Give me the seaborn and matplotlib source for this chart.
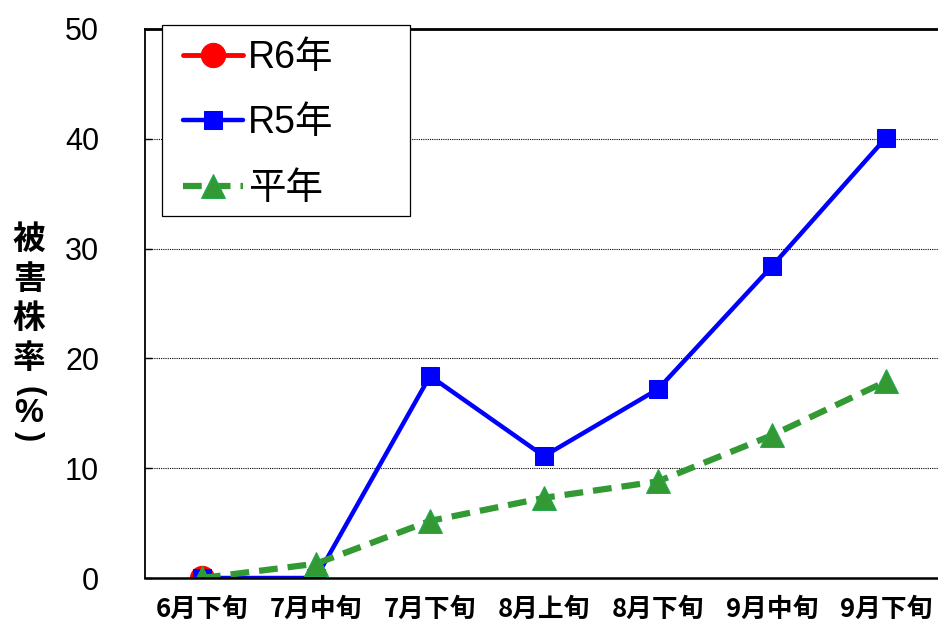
import numpy as np
import pandas as pd
import matplotlib
matplotlib.use("Agg")
import matplotlib.pyplot as plt
from matplotlib.patches import Rectangle
import seaborn as sns

# data
periods = ["6月下旬", "7月中旬", "7月下旬", "8月上旬", "8月下旬", "9月中旬", "9月下旬"]
r6 = [0.0]
r5 = [0.0, 0.0, 18.4, 11.1, 17.2, 28.4, 40.1]
heinen = [0.0, 1.3, 5.2, 7.3, 8.8, 13.0, 17.9]
yticks = [0, 10, 20, 30, 40, 50]

sns.set_style("white")
plt.rcParams["font.family"] = ["Noto Sans CJK JP", "DejaVu Sans"]
plt.rcParams["text.color"] = "black"
plt.rcParams["xtick.color"] = "black"
plt.rcParams["ytick.color"] = "black"
latin = ["Liberation Sans", "Noto Sans CJK JP"]

pos = np.arange(len(periods))
df_r6 = pd.DataFrame({"x": pos[:len(r6)], "y": r6})
df_r5 = pd.DataFrame({"x": pos, "y": r5})
df_hn = pd.DataFrame({"x": pos, "y": heinen})

fig = plt.figure(figsize=(9.38, 6.25), dpi=100)
ax = fig.add_axes([0.1546, 0.0752, 0.8454, 0.8784])

sns.lineplot(data=df_r6, x="x", y="y", ax=ax, color="#ff0000", marker="o",
             markersize=17.5, markeredgecolor="#ff0000", linewidth=3.5, label="R6年")
sns.lineplot(data=df_r5, x="x", y="y", ax=ax, color="#0000ff", marker="s",
             markersize=13.5, markeredgecolor="#0000ff", linewidth=3.2, label="R5年")
sns.lineplot(data=df_hn, x="x", y="y", ax=ax, color="#339933", marker="^",
             markersize=17, markeredgecolor="#22aa55", linewidth=4.5,
             dashes=(3, 1.6), label="平年")

ax.set_xlim(-0.5, 6.456)
ax.set_ylim(0, 50)
ax.set_yticks(yticks)
ax.set_yticklabels([str(v) for v in yticks], fontsize=22, family=latin)
ax.set_xticks(pos)
ax.set_xticklabels(periods, fontsize=18.5, fontweight="bold")
ax.set_xticks(pos[:-1] + 0.5, minor=True)
ax.tick_params(axis="x", which="major", length=0, pad=13)
ax.tick_params(axis="x", which="minor", direction="in", length=7, width=1, color="black")
ax.tick_params(axis="y", direction="in", length=5, width=1, color="black", left=True, pad=33)
ax.set_xlabel("")
ax.set_ylabel("")

for v in yticks[1:-1]:
    ax.axhline(v, color="black", linewidth=0.8, linestyle=(0, (1, 1)), zorder=0)

ax.spines["left"].set_color("black")
ax.spines["left"].set_linewidth(1.3)
ax.spines["bottom"].set_color("black")
ax.spines["bottom"].set_linewidth(1.8)
ax.spines["top"].set_color("black")
ax.spines["top"].set_linewidth(2)
ax.spines["right"].set_visible(False)

# legend box is wider than its content in the original, so draw the frame separately
box = Rectangle((0.0214, 0.6594), 0.3128, 0.3479, transform=ax.transAxes,
                facecolor="white", edgecolor="black", linewidth=0.9,
                zorder=4, clip_on=False)
ax.add_patch(box)
leg = ax.legend(loc="upper left", bbox_to_anchor=(0.034, 1.0),
                prop={"family": latin, "size": 27},
                frameon=False, handlelength=1.6, handletextpad=0.12,
                labelspacing=0.78, borderpad=0.3, borderaxespad=0)
leg.set_zorder(5)

# vertical y label: characters stacked, brackets turned sideways
fig.text(0.031, 0.5216, "\n".join(["被", "害", "株", "率"]),
         fontsize=23.5, fontweight="bold", ha="center", va="center", linespacing=1.25)
fig.text(0.031, 0.374, "(", fontsize=22, fontweight="bold", family=latin,
         rotation=-90, ha="center", va="center")
fig.text(0.031, 0.339, "%", fontsize=23.5, fontweight="bold", family=latin,
         ha="center", va="center")
fig.text(0.031, 0.302, ")", fontsize=22, fontweight="bold", family=latin,
         rotation=-90, ha="center", va="center")

fig.savefig("out.png", dpi=100)
